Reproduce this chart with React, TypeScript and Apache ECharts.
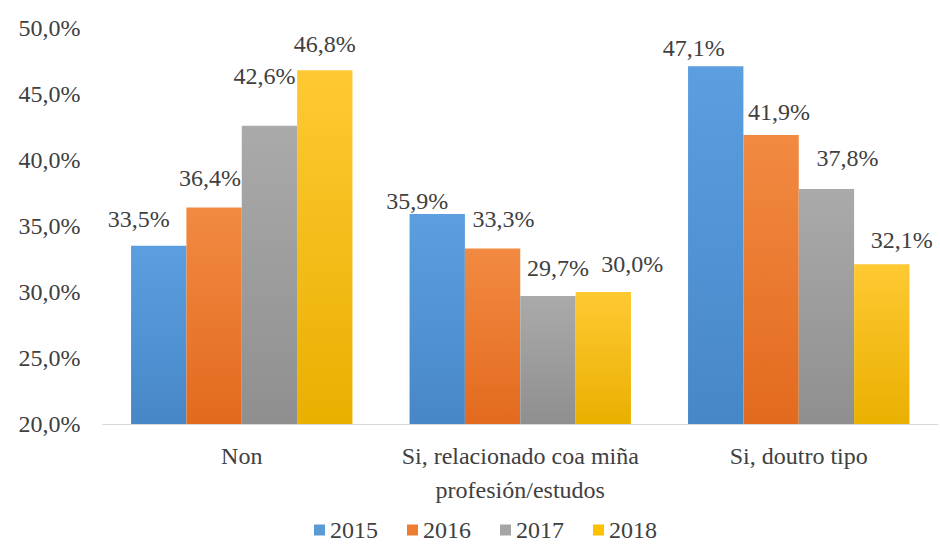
import React, { useEffect, useRef } from "react";
import * as echarts from "echarts";

const categories = ["Non", "Si, relacionado coa miña\nprofesión/estudos", "Si, doutro tipo"];
const years = ["2015", "2016", "2017", "2018"];
const values2015 = [33.5, 35.9, 47.1];
const values2016 = [36.4, 33.3, 41.9];
const values2017 = [42.6, 29.7, 37.8];
const values2018 = [46.8, 30.0, 32.1];
const yTicks = { min: 20, max: 50, interval: 5 };

// label offsets [dx, dy] per series per category (layout only)
const labelOffsets2015 = [[-20, -15], [-20, -1], [-22, -6]];
const labelOffsets2016 = [[-4, -18], [11, -17], [8, -11]];
const labelOffsets2017 = [[-5, -38], [10, -16], [21, -19]];
const labelOffsets2018 = [[0, -14], [29, -16], [20, -12]];

const colorsTop = ["#5b9fe0", "#f28a42", "#aaaaaa", "#ffc933"];
const colorsBottom = ["#4787c8", "#e26a1e", "#8f8f8f", "#e9b000"];
const legendColors = ["#5b9bd5", "#ed7d31", "#a5a5a5", "#ffc000"];

const fmt = (v: number) => v.toFixed(1).replace(".", ",") + "%";
const FONT = '"Liberation Serif", "Times New Roman", serif';

export default function App() {
  const ref = useRef<HTMLDivElement>(null);
  useEffect(() => {
    if (!ref.current) return;
    const chart = echarts.init(ref.current, undefined, { renderer: "svg" });
    const seriesValues = [values2015, values2016, values2017, values2018];
    const offsets = [labelOffsets2015, labelOffsets2016, labelOffsets2017, labelOffsets2018];
    chart.setOption({
      animation: false,
      backgroundColor: "#ffffff",
      textStyle: { fontFamily: FONT },
      grid: { left: 102.5, right: 2, top: 28, bottom: 120, containLabel: false },
      legend: {
        data: years.map((y, i) => ({ name: y, itemStyle: { color: legendColors[i] } })),
        left: 314,
        top: 518,
        itemWidth: 11,
        itemHeight: 11,
        itemGap: 29,
        icon: "rect",
        padding: 0,
        textStyle: { fontFamily: FONT, fontSize: 24, lineHeight: 22, color: "#404040" },
      },
      xAxis: {
        type: "category",
        data: categories,
        axisLine: { show: true, lineStyle: { color: "#d9d9d9", width: 1 } },
        axisTick: { show: false },
        axisLabel: {
          fontFamily: FONT,
          fontSize: 24,
          color: "#404040",
          margin: 15,
          lineHeight: 34,
          interval: 0,
        },
      },
      yAxis: {
        type: "value",
        min: yTicks.min,
        max: yTicks.max,
        interval: yTicks.interval,
        splitLine: { show: false },
        axisLine: { show: false },
        axisTick: { show: false },
        axisLabel: {
          fontFamily: FONT,
          fontSize: 24,
          color: "#404040",
          margin: 22,
          formatter: (v: number) => fmt(v),
        },
      },
      series: years.map((y, i) => ({
        name: y,
        type: "bar",
        barGap: "0%",
        barCategoryGap: "20.5%",
        itemStyle: {
          color: new echarts.graphic.LinearGradient(0, 0, 0, 1, [
            { offset: 0, color: colorsTop[i] },
            { offset: 1, color: colorsBottom[i] },
          ]),
        },
        data: seriesValues[i].map((v, j) => ({
          value: v,
          label: { offset: offsets[i][j] },
        })),
        label: {
          show: true,
          position: "top",
          distance: 0,
          fontFamily: FONT,
          fontSize: 24,
          color: "#404040",
          formatter: (p: any) => fmt(p.value),
        },
      })),
    });
    return () => chart.dispose();
  }, []);
  return (
    <div
      ref={ref}
      style={{ position: "fixed", left: 0, top: 0, width: 940, height: 544 }}
    />
  );
}
